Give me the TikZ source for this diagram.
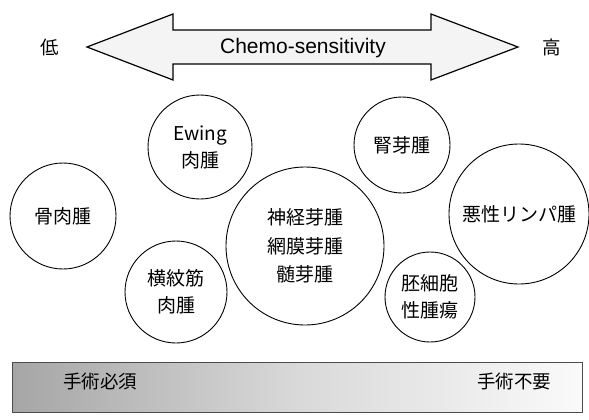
\documentclass[tikz,border=0pt]{standalone}
\usepackage{fontspec}
\setmainfont{Liberation Sans}
\newfontfamily\jpfont{Noto Sans CJK JP}
\begin{document}
\begin{tikzpicture}[x=1pt,y=-1pt,
  tumor/.style={circle,draw=black,line width=0.9pt,inner sep=0pt,align=center,
    font=\jpfont\fontsize{19}{27}\selectfont},
  jplabel/.style={font=\jpfont\fontsize{18.5}{21}\selectfont,inner sep=0pt},
  bigarrow/.style={draw=black,line width=1.2pt,fill=gray!9,line join=miter}]
\useasboundingbox (0,0) rectangle (589,420);
% double arrow
\draw[bigarrow] (87,47) -- (173,14) -- (173,30) -- (431,30) -- (431,14) -- (518,47)
  -- (431,80) -- (431,64) -- (173,64) -- (173,80) -- cycle;
\node[inner sep=0pt,font=\fontsize{21}{24}\selectfont] (chemo) at (303,48) {Chemo-sensitivity};
\node[jplabel] (low) at (50,47) {低};
\node[jplabel] (high) at (552,47) {高};
% circles
\node[tumor,minimum size=106pt] (osteo) at (63,216) {骨肉腫};
\node[tumor,minimum size=104pt] (ewing) at (200,147) {Ewing\\肉腫};
\node[tumor,minimum size=102pt] (rhabdo) at (176,292) {横紋筋\\肉腫};
\node[tumor,minimum size=158pt,font=\jpfont\fontsize{19}{28.5}\selectfont] (neuro) at (305,246) {神経芽腫\\網膜芽腫\\髄芽腫};
\node[tumor,minimum size=96pt] (wilms) at (402,145) {腎芽腫};
\node[tumor,minimum size=140pt] (lymph) at (519,214) {悪性リンパ腫};
\node[tumor,minimum size=90pt] (germ) at (430,297) {胚細胞\\性腫瘍};
% surgery bar
\shade[left color=gray!70,right color=gray!4,middle color=gray!30] (12,362) rectangle (582,412);
\draw[line width=0.8pt,draw=gray!60!black] (12,362) rectangle (582,412);
\node[jplabel] (need) at (100,381) {手術必須};
\node[jplabel] (noneed) at (514,381) {手術不要};
\end{tikzpicture}
\end{document}
